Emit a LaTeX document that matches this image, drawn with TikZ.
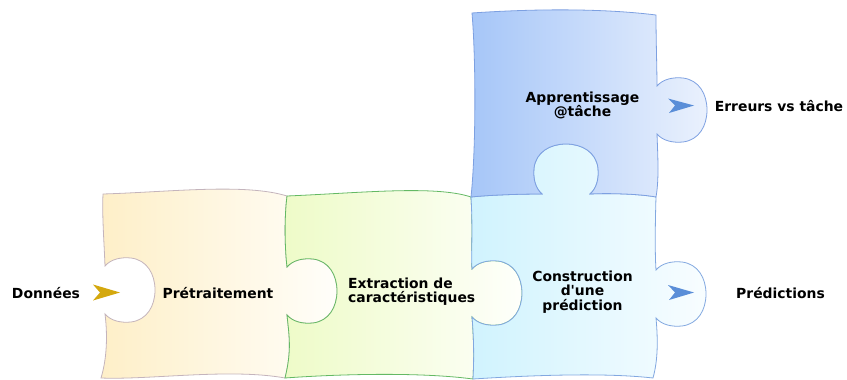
\documentclass[tikz,border=0pt]{standalone}
\usepackage{fontspec}
\setmainfont{DejaVu Sans}
\usetikzlibrary{calc}
\definecolor{oneL}{RGB}{254,239,200}
\definecolor{oneR}{RGB}{255,254,250}
\definecolor{oneD}{RGB}{196,180,188}
\definecolor{twoL}{RGB}{238,251,200}
\definecolor{twoR}{RGB}{254,255,251}
\definecolor{twoD}{RGB}{100,185,100}
\definecolor{thrL}{RGB}{208,243,254}
\definecolor{thrR}{RGB}{248,253,255}
\definecolor{thrD}{RGB}{130,168,224}
\definecolor{fouL}{RGB}{166,198,248}
\definecolor{fouR}{RGB}{234,241,253}
\definecolor{fouD}{RGB}{125,160,225}
\definecolor{goldc}{RGB}{212,168,14}
\definecolor{bluec}{RGB}{90,142,216}
\tikzset{
  knobR/.style 2 args={insert path={-- ($(#1,#2)+(0,-24)$)
     .. controls ($(#1,#2)+(6,-31)$) and ($(#1,#2)+(16,-33)$) .. ($(#1,#2)+(26,-32)$)
     .. controls ($(#1,#2)+(42,-30)$) and ($(#1,#2)+(50,-16)$) .. ($(#1,#2)+(50,0)$)
     .. controls ($(#1,#2)+(50,16)$) and ($(#1,#2)+(42,30)$) .. ($(#1,#2)+(26,32)$)
     .. controls ($(#1,#2)+(16,33)$) and ($(#1,#2)+(6,31)$) .. ($(#1,#2)+(0,24)$)}},
  knobRrev/.style 2 args={insert path={-- ($(#1,#2)+(0,24)$)
     .. controls ($(#1,#2)+(6,31)$) and ($(#1,#2)+(16,33)$) .. ($(#1,#2)+(26,32)$)
     .. controls ($(#1,#2)+(42,30)$) and ($(#1,#2)+(50,16)$) .. ($(#1,#2)+(50,0)$)
     .. controls ($(#1,#2)+(50,-16)$) and ($(#1,#2)+(42,-30)$) .. ($(#1,#2)+(26,-32)$)
     .. controls ($(#1,#2)+(16,-33)$) and ($(#1,#2)+(6,-31)$) .. ($(#1,#2)+(0,-24)$)}},
  knobU/.style 2 args={insert path={-- ($(#1,#2)+(-24,0)$)
     .. controls ($(#1,#2)+(-31,-6)$) and ($(#1,#2)+(-33,-16)$) .. ($(#1,#2)+(-32,-26)$)
     .. controls ($(#1,#2)+(-30,-42)$) and ($(#1,#2)+(-16,-50)$) .. ($(#1,#2)+(0,-50)$)
     .. controls ($(#1,#2)+(16,-50)$) and ($(#1,#2)+(30,-42)$) .. ($(#1,#2)+(32,-26)$)
     .. controls ($(#1,#2)+(33,-16)$) and ($(#1,#2)+(31,-6)$) .. ($(#1,#2)+(24,0)$)}},
  knobUrev/.style 2 args={insert path={-- ($(#1,#2)+(24,0)$)
     .. controls ($(#1,#2)+(31,-6)$) and ($(#1,#2)+(33,-16)$) .. ($(#1,#2)+(32,-26)$)
     .. controls ($(#1,#2)+(30,-42)$) and ($(#1,#2)+(16,-50)$) .. ($(#1,#2)+(0,-50)$)
     .. controls ($(#1,#2)+(-16,-50)$) and ($(#1,#2)+(-30,-42)$) .. ($(#1,#2)+(-32,-26)$)
     .. controls ($(#1,#2)+(-33,-16)$) and ($(#1,#2)+(-31,-6)$) .. ($(#1,#2)+(-24,0)$)}},
  pieceone/.style={draw=oneD, left color=oneL, right color=oneR, line width=0.8pt},
  piecetwo/.style={draw=twoD, left color=twoL, right color=twoR, line width=0.8pt},
  piecethr/.style={draw=thrD, left color=thrL, right color=thrR, line width=0.8pt},
  piecefou/.style={draw=fouD, left color=fouL, right color=fouR, line width=0.8pt},
  lbl/.style={inner sep=0pt, font=\fontsize{13.9pt}{14.3pt}\selectfont\bfseries, text=black},
  headgold/.style={fill=goldc},
  headblue/.style={fill=bluec},
}
\begin{document}
\begin{tikzpicture}[x=1pt, y=-1pt]
\useasboundingbox (0,0) rectangle (847,380);
% piece 1
\path[pieceone] (103,194) .. controls (170,192) and (245,183) .. (287,196)
  .. controls (284,220) and (285,250) .. (287,267) [knobR={287}{291}]
  .. controls (289,335) and (292,350) .. (285,378)
  .. controls (230,368) and (150,380) .. (101,378)
  .. controls (108,355) and (107,330) .. (105,314) [knobRrev={105}{290}]
  .. controls (104,240) and (102,215) .. (103,194) -- cycle;
% piece 2
\path[piecetwo] (287,196) .. controls (360,193) and (435,185) .. (471,197)
  .. controls (473,230) and (471,255) .. (472,269) [knobR={472}{293}]
  .. controls (474,340) and (474,360) .. (473,379)
  .. controls (420,372) and (340,374) .. (285,378)
  .. controls (292,350) and (289,335) .. (287,315) [knobRrev={287}{291}]
  .. controls (285,250) and (284,220) .. (287,196) -- cycle;
% piece 3
\path[piecethr] (471,197) .. controls (490,195) and (520,194) .. (542,194) [knobU={566}{194}]
  .. controls (610,193) and (640,194) .. (656,197)
  .. controls (655,230) and (655,255) .. (656,270) [knobR={656}{294}]
  .. controls (658,340) and (658,360) .. (653,378)
  .. controls (600,372) and (520,376) .. (473,379)
  .. controls (474,360) and (474,340) .. (472,317) [knobRrev={472}{293}]
  .. controls (471,255) and (473,230) .. (471,197) -- cycle;
% piece 4
\path[piecefou] (472,13) .. controls (530,9) and (600,8) .. (656,15)
  .. controls (656,40) and (657,70) .. (657,86) [knobR={657}{110}]
  .. controls (658,160) and (659,180) .. (656,197)
  .. controls (640,194) and (610,193) .. (590,194) [knobUrev={566}{194}]
  .. controls (520,194) and (490,195) .. (471,197)
  .. controls (476,150) and (476,60) .. (472,13) -- cycle;
% arrowheads
\fill[headgold] (93,284.5) -- (120,292.5) -- (93,300.5) -- (100,292.5) -- cycle;
\fill[headblue] (668,98.5) -- (694,105.5) -- (669,113) -- (675,105.5) -- cycle;
\fill[headblue] (668,285) -- (694,292.5) -- (669,300) -- (675,292.5) -- cycle;
% labels
\node[lbl] (donnees) at (46,293) {Données};
\node[lbl] (pretr) at (218,293) {Prétraitement};
\node[lbl, align=left, anchor=west] (extr) at (348,292) {Extraction de\\caractéristiques};
\node[lbl, align=center] (constr) at (582.5,292) {Construction\\d\textquotesingle une\\prédiction};
\node[lbl, align=center] (appr) at (582.5,105.5) {Apprentissage\\@tâche};
\node[lbl] (err) at (779,106) {Erreurs vs tâche};
\node[lbl] (pred) at (780.5,293) {Prédictions};
\end{tikzpicture}
\end{document}
